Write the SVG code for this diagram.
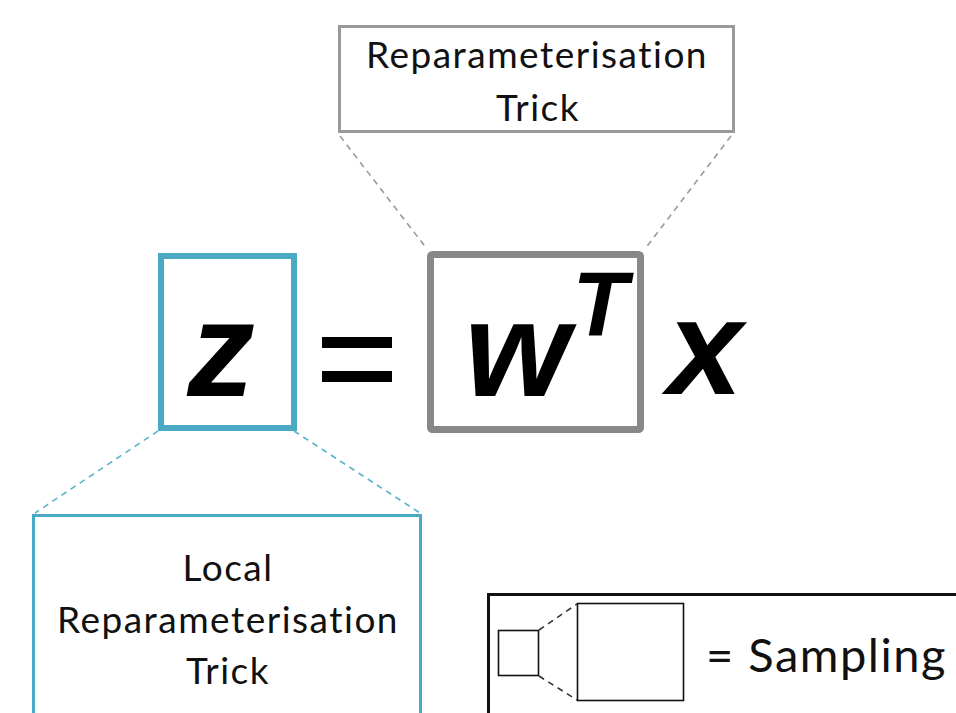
<svg xmlns="http://www.w3.org/2000/svg" width="956" height="713" viewBox="0 0 956 713">
  <style>
    .lbl { font-family: "Lato", "Open Sans", "Liberation Sans", sans-serif; font-size: 37px; letter-spacing: 1.5px; font-variant-ligatures: none; fill: #111; text-anchor: middle; }
    .math { font-family: "Liberation Sans", Arial, sans-serif; font-style: italic; font-weight: bold; fill: #000; }
    .gdash { stroke: #999; stroke-width: 1.6; stroke-dasharray: 6 5; fill: none; }
    .bdash { stroke: #5fb3cb; stroke-width: 1.6; stroke-dasharray: 6 5; fill: none; }
    .kdash { stroke: #333; stroke-width: 1.6; stroke-dasharray: 6 5; fill: none; }
  </style>
  <rect width="956" height="713" fill="#fff"/>

  <g id="connectors">
    <line class="gdash" x1="340" y1="136" x2="427" y2="249"/>
    <line class="gdash" x1="731" y1="136" x2="645" y2="249"/>
    <line class="bdash" x1="158" y1="431" x2="35" y2="513"/>
    <line class="bdash" x1="294" y1="431" x2="420" y2="513"/>
  </g>

  <g id="reparam-trick">
    <rect x="339.5" y="26.5" width="394" height="105" fill="#fff" stroke="#999" stroke-width="3"/>
    <text class="lbl" x="537" y="68">Reparameterisation</text>
    <text class="lbl" x="538" y="121">Trick</text>
  </g>

  <g id="z-box">
    <rect x="161" y="256" width="133" height="172" fill="#fff" stroke="#4aaac4" stroke-width="6"/>
    <text class="math" x="221" y="396" font-size="135" text-anchor="middle">z</text>
  </g>

  <g id="equals">
    <rect x="322" y="337" width="70" height="11" fill="#000"/>
    <rect x="322" y="371" width="70" height="11" fill="#000"/>
  </g>

  <g id="w-box">
    <rect x="430.5" y="254.5" width="210" height="175" fill="#fff" stroke="#888" stroke-width="7" rx="2"/>
    <text class="math" x="517" y="396" font-size="135" text-anchor="middle">w</text>
    <text class="math" x="600" y="336" font-size="90" text-anchor="middle">T</text>
  </g>

  <g id="x-var">
    <text class="math" x="705" y="394" font-size="135" text-anchor="middle">x</text>
  </g>

  <g id="local-reparam-trick">
    <rect x="33.5" y="515.5" width="387" height="240" fill="#fff" stroke="#4aaac4" stroke-width="3"/>
    <text class="lbl" x="228" y="581">Local</text>
    <text class="lbl" x="228" y="633">Reparameterisation</text>
    <text class="lbl" x="228" y="684">Trick</text>
  </g>

  <g id="legend">
    <rect x="488.5" y="594.5" width="520" height="160" fill="#fff" stroke="#111" stroke-width="3"/>
    <rect x="498.5" y="630.5" width="40" height="45" fill="#fff" stroke="#111" stroke-width="1.6"/>
    <rect x="577.5" y="603.5" width="106" height="97" fill="#fff" stroke="#111" stroke-width="1.6"/>
    <line class="kdash" x1="539" y1="630" x2="577" y2="604"/>
    <line class="kdash" x1="539" y1="676" x2="577" y2="700"/>
    <text x="706" y="672" font-family="Lato, 'Open Sans', 'Liberation Sans', sans-serif" font-size="47" letter-spacing="1.5" fill="#111">= Sampling</text>
  </g>
</svg>
